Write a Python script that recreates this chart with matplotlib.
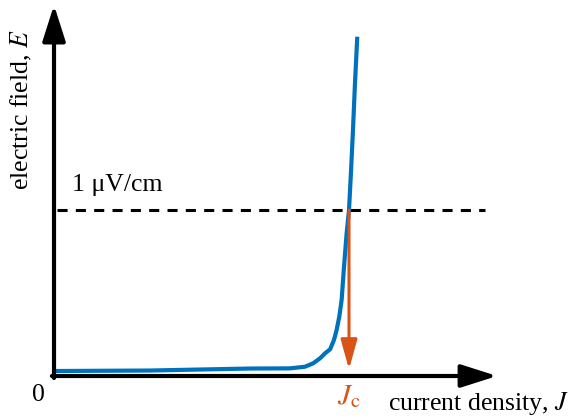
import matplotlib.pyplot as plt

# E-J curve, J normalised to Jc, E normalised to 1 uV/cm
J_vals = [0.0, 0.325, 0.664, 0.800, 0.851, 0.879, 0.902, 0.919, 0.936, 0.949, 0.958,
          0.967, 0.975, 0.983, 0.992, 1.0, 1.007, 1.013, 1.020, 1.028]
E_vals = [0.030, 0.033, 0.045, 0.046, 0.056, 0.077, 0.107, 0.137, 0.161, 0.217, 0.277,
          0.357, 0.458, 0.657, 0.861, 1.0, 1.241, 1.464, 1.753, 2.044]
jc = 1.0
e_crit = 1.0
crit_label = '1 μV/cm'
x_label = 'current density, $J$'
y_label = 'electric field, $E$'

blue = '#0072BD'
orange = '#D95319'

plt.rcParams['font.family'] = ['Liberation Serif', 'DejaVu Serif']
plt.rcParams['mathtext.fontset'] = 'stix'

fig = plt.figure(figsize=(5.72, 4.19), dpi=100)
ax = fig.add_axes([0, 0, 1, 1])
ax.set_xlim(-0.1831, 1.7559)
ax.set_ylim(-0.259, 2.265)
ax.axis('off')

# axes as arrows
ax.annotate('', xy=(0, 2.235), xytext=(0, -0.012),
            arrowprops=dict(arrowstyle='-|>,head_length=1.1,head_width=0.35',
                            mutation_scale=20, lw=3, color='black',
                            shrinkA=0, shrinkB=0))
ax.annotate('', xy=(1.502, 0), xytext=(-0.007, 0),
            arrowprops=dict(arrowstyle='-|>,head_length=1.1,head_width=0.35',
                            mutation_scale=20, lw=3, color='black',
                            shrinkA=0, shrinkB=0))

# criterion line
ax.plot([0.01, 1.461], [e_crit, e_crit], color='black', lw=2.2,
        dashes=(3.3, 2.7))

# Jc arrow
ax.annotate('', xy=(jc, 0.04), xytext=(jc, e_crit),
            arrowprops=dict(arrowstyle='-|>,head_length=0.9,head_width=0.25',
                            mutation_scale=20, lw=2.2, color=orange,
                            shrinkA=0, shrinkB=0))

ax.plot(J_vals, E_vals, color=blue, lw=3, solid_capstyle='butt',
        solid_joinstyle='round')

ax.text(-0.054, -0.114, '0', fontsize=18.5, ha='center', va='center')
ax.text(jc, -0.125, r'$J_\mathrm{c}$', fontsize=21, color=orange,
        ha='center', va='center')
ax.text(1.132, -0.163, x_label, fontsize=18.5, ha='left', va='center')
ax.text(-0.112, 1.602, y_label, fontsize=18.5, rotation=90,
        ha='center', va='center')
ax.text(0.061, 1.15, crit_label, fontsize=18.5, ha='left', va='center')

fig.savefig('out.png', dpi=100)
